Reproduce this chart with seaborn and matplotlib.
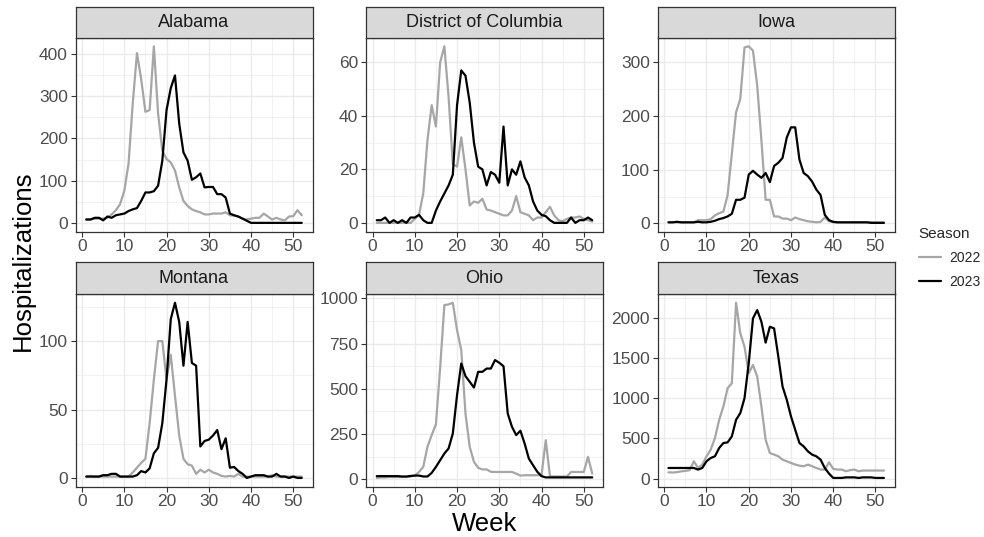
import numpy as np
import pandas as pd
import matplotlib
matplotlib.use("Agg")
import matplotlib.pyplot as plt
from matplotlib.ticker import MultipleLocator
from matplotlib.lines import Line2D
import seaborn as sns

# Weekly hospitalizations by state and season
weeks = list(range(1, 53))
states = ["Alabama", "District of Columbia", "Iowa", "Montana", "Ohio", "Texas"]
seasons = ["2022", "2023"]

alabama_2022 = [8, 8, 10, 10, 10, 12, 20, 30, 44, 76, 140, 283, 402, 340, 263, 267, 418, 259, 171, 151,
                143, 124, 84, 52, 40, 32, 28, 25, 20, 20, 22, 22, 22, 25, 18, 17, 15, 10, 8, 10,
                12, 12, 22, 15, 8, 12, 8, 6, 15, 16, 30, 18]
alabama_2023 = [8, 8, 12, 12, 6, 15, 12, 18, 20, 22, 28, 32, 35, 52, 72, 72, 75, 88, 147, 267,
                319, 349, 235, 167, 147, 102, 108, 117, 84, 85, 85, 68, 68, 60, 22, 18, 15, 10, 5, 0,
                0, 0, 0, 0, 0, 0, 0, 0, 0, 0, 0, 0]
dc_2022 = [0, 0, 0, 0, 0, 0, 0, 0, 0, 1.5, 3, 11, 31, 44, 36, 60, 66, 47, 22, 21,
           32, 20, 6.5, 8, 7.5, 9, 5, 4.6, 4, 3.4, 2.8, 2.8, 4.6, 10, 4, 3.4, 2.8, 1, 2, 2,
           4, 6, 2.8, 1, 0.6, 1.5, 2, 2, 2.4, 1.5, 1, 0.5]
dc_2023 = [1, 1, 2, 0, 1, 0, 1, 0, 2, 2, 3, 1, 0, 0, 4.6, 8, 11, 14, 18, 44,
           57, 55, 45, 30, 21, 20, 14, 19, 18, 15, 36, 14, 20, 18, 23, 17, 14, 8, 4.6, 3,
           2.5, 1, 0, 0, 0, 0, 2, 0, 1, 1, 2, 1]
iowa_2022 = [2, 2, 2, 2, 2, 2, 2, 6, 6, 6, 8, 15, 19, 22, 53, 130, 207, 232, 328, 330,
             322, 257, 155, 44, 44, 13, 13, 9, 9, 6, 11, 8, 6, 4, 3, 2, 3, 11, 4, 2,
             2, 2, 2, 2, 2, 2, 2, 2, 2, 2, 2, 2]
iowa_2023 = [2, 2, 3, 2, 2, 2, 2, 3, 2, 2, 3, 5, 8, 10, 13, 18, 44, 44, 48, 91,
             98, 91, 85, 94, 77, 107, 113, 122, 160, 179, 179, 119, 94, 88, 78, 63, 53, 16, 6, 3,
             2, 2, 2, 2, 2, 2, 2, 2, 1, 1, 1, 1]
montana_2022 = [1, 1.5, 1, 1, 1, 1, 1, 1, 1, 1, 1, 4, 7.5, 11, 14, 40, 72, 100, 100, 72,
                90, 60, 31, 14, 10, 9, 3, 6, 4, 6, 4, 3, 1.5, 1, 1.5, 1, 3, 1, 1, 1,
                1, 1, 1, 1, 2, 1, 1, 1, 1, 1, 1, 1]
montana_2023 = [1, 1, 1, 1, 2, 2, 3, 3, 1, 1, 1, 1, 2, 5, 4, 7, 18, 22, 40, 72,
                116, 128, 114, 82, 114, 84, 82, 23, 27, 28, 31, 35, 21, 29, 7.5, 8, 5, 3, 0, 1,
                2, 2, 2, 1, 1, 3, 1, 1, 0, 1, 0, 0]
ohio_2022 = [7, 10, 10, 12, 12, 12, 12, 12, 15, 20, 40, 68, 179, 244, 304, 616, 963, 967, 976, 825,
             714, 363, 179, 96, 63, 54, 54, 41, 40, 40, 40, 40, 40, 31, 20, 22, 22, 22, 22, 22,
             216, 15, 15, 15, 15, 15, 40, 40, 40, 40, 124, 31]
ohio_2023 = [17, 17, 17, 17, 17, 17, 15, 15, 18, 20, 20, 15, 15, 35, 68, 105, 142, 170, 253, 465,
             640, 570, 539, 507, 594, 594, 612, 612, 659, 644, 625, 363, 290, 244, 268, 197, 114, 77, 41, 17,
             10, 10, 10, 10, 10, 10, 10, 10, 10, 10, 10, 10]
texas_2022 = [78, 75, 80, 90, 95, 105, 215, 132, 174, 277, 360, 504, 731, 897, 1124, 1186, 2186, 1806, 1640, 1310,
              1413, 1269, 897, 483, 318, 298, 277, 236, 215, 194, 174, 161, 153, 174, 153, 132, 112, 112, 202, 120,
              112, 112, 91, 105, 112, 91, 100, 100, 100, 100, 100, 100]
texas_2023 = [132, 132, 132, 132, 132, 132, 132, 112, 132, 215, 256, 277, 380, 442, 450, 525, 731, 814, 1000, 1434,
              1992, 2095, 1950, 1690, 1888, 1867, 1517, 1145, 980, 773, 607, 442, 400, 339, 298, 277, 236, 132, 62, 8,
              8, 8, 15, 15, 15, 8, 15, 15, 15, 8, 8, 8]

series = {
    "Alabama": (alabama_2022, alabama_2023),
    "District of Columbia": (dc_2022, dc_2023),
    "Iowa": (iowa_2022, iowa_2023),
    "Montana": (montana_2022, montana_2023),
    "Ohio": (ohio_2022, ohio_2023),
    "Texas": (texas_2022, texas_2023),
}
y_steps = {"Alabama": 100, "District of Columbia": 20, "Iowa": 100,
           "Montana": 50, "Ohio": 250, "Texas": 500}

rows = []
for st in states:
    for season, vals in zip(seasons, series[st]):
        for w, v in zip(weeks, vals):
            rows.append({"State": st, "Season": season, "Week": w, "Hospitalizations": v})
df = pd.DataFrame(rows)

sns.set_theme(style="white")
plt.rcParams["font.family"] = ["Liberation Sans", "DejaVu Sans"]

palette = {"2022": "#A6A6A6", "2023": "#000000"}
grid_c = "#EBEBEB"
border_c = "#333333"

W, H = 984, 537
fig = plt.figure(figsize=(W / 100, H / 100), dpi=100)
fig.patch.set_facecolor("white")

col_left = [75.5, 366.0, 657.7]
panel_w = 237.0
row_top = [37.5, 294.0]
panel_h = [194.2, 192.7]
strip_h = [30.5, 31.7]

for i, st in enumerate(states):
    r, c = divmod(i, 3)
    x0 = col_left[c]
    top = row_top[r]
    ax = fig.add_axes([x0 / W, 1 - (top + panel_h[r]) / H, panel_w / W, panel_h[r] / H])
    sub = df[df["State"] == st]
    sns.lineplot(data=sub, x="Week", y="Hospitalizations", hue="Season",
                 palette=palette, linewidth=1.6, ax=ax, legend=False)
    ax.set_facecolor("white")
    ax.set_xlabel("")
    ax.set_ylabel("")
    ax.xaxis.set_major_locator(MultipleLocator(10))
    ax.xaxis.set_minor_locator(MultipleLocator(5))
    ax.yaxis.set_major_locator(MultipleLocator(y_steps[st]))
    ax.yaxis.set_minor_locator(MultipleLocator(y_steps[st] / 2))
    ax.grid(which="major", color=grid_c, linewidth=1.0)
    ax.grid(which="minor", color=grid_c, linewidth=0.5)
    ax.set_axisbelow(True)
    for sp in ax.spines.values():
        sp.set_color(border_c)
        sp.set_linewidth(0.9)
    ax.tick_params(which="major", length=3.5, width=0.8, color=border_c,
                   labelsize=12.5, labelcolor="#4D4D4D", pad=2,
                   bottom=True, left=True)
    ax.tick_params(which="minor", length=0)
    ax.set_xlim(-1.55, 54.55)
    ax.autoscale(axis="y")
    ax.margins(y=0.05)

    # facet strip
    sax = fig.add_axes([x0 / W, 1 - top / H, panel_w / W, strip_h[r] / H])
    sax.set_xticks([])
    sax.set_yticks([])
    sax.set_facecolor("#D9D9D9")
    for sp in sax.spines.values():
        sp.set_color(border_c)
        sp.set_linewidth(0.9)
    sax.text(0.5, 0.5, st, ha="center", va="center", fontsize=13,
             color="#1A1A1A", transform=sax.transAxes)

fig.text(485 / W, 1 - 524 / H, "Week", ha="center", va="center", fontsize=18.5, color="black")
fig.text(23 / W, 1 - 261 / H, "Hospitalizations", ha="center", va="center",
         rotation=90, fontsize=18.5, color="black")

handles = [Line2D([0], [0], color=palette[s], linewidth=1.6) for s in seasons]
leg = fig.legend(handles, seasons, title="Season", loc="upper left",
                 bbox_to_anchor=(906 / W, 1 - 214 / H), frameon=False,
                 fontsize=10, title_fontsize=11, handlelength=1.6,
                 handletextpad=0.6, labelspacing=0.75)
leg._legend_box.align = "left"

fig.savefig("out.png", dpi=100, facecolor="white")
